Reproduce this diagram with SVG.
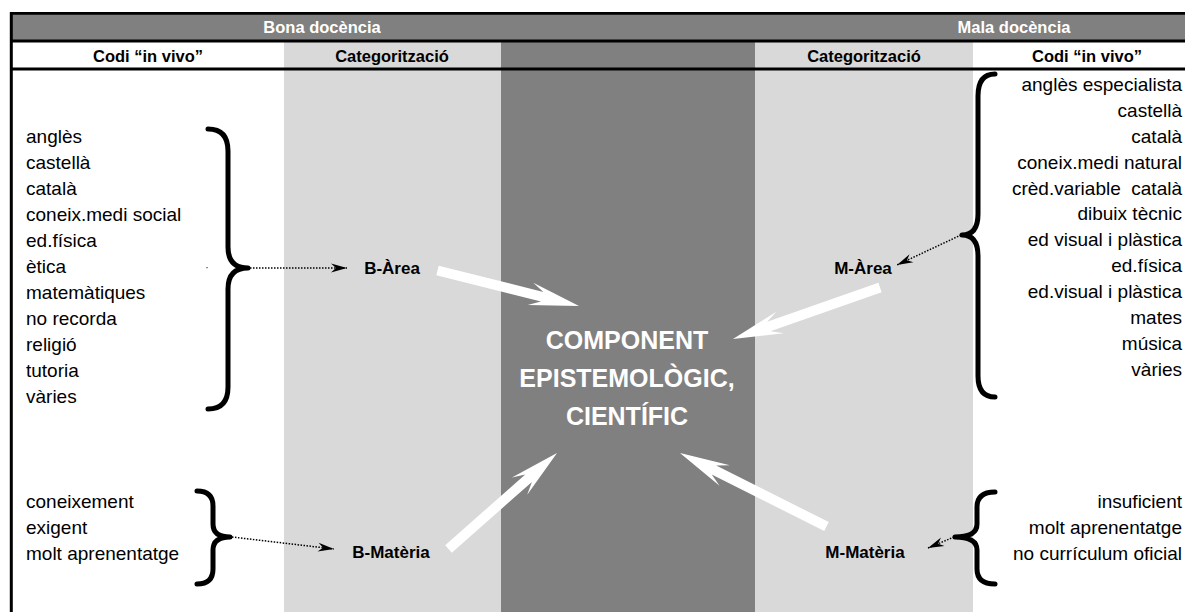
<svg xmlns="http://www.w3.org/2000/svg" width="1185" height="612" viewBox="0 0 1185 612">
<style>
.hd{font-family:"Liberation Sans",Arial,sans-serif;font-weight:bold;font-size:16.5px;text-anchor:middle}
.wh{fill:#ffffff}
.bk{fill:#000000}
.li{font-family:"Liberation Sans",Arial,sans-serif;font-size:19px;fill:#000}
.rt{text-anchor:end}
.cat{font-family:"Liberation Sans",Arial,sans-serif;font-weight:bold;font-size:17px;fill:#000;text-anchor:middle}
.big{font-family:"Liberation Sans",Arial,sans-serif;font-weight:bold;font-size:25px;fill:#fff;text-anchor:middle}
.brace{fill:none;stroke:#000;stroke-width:5;stroke-linecap:round;stroke-linejoin:round}
.dot{fill:none;stroke:#000;stroke-width:1.5;stroke-dasharray:1.5 1.5}
.blk{fill:#fff}
</style>
<defs>
<marker id="ah" viewBox="-17 -6 18 12" refX="0" refY="0" markerWidth="18" markerHeight="12" markerUnits="userSpaceOnUse" orient="auto">
<path d="M0,0 L-16,-4.5 L-11,0 L-16,4.5 Z" fill="#000"/>
</marker>
</defs>
<rect width="1185" height="612" fill="#fff"/>
<g id="columns">
<rect x="284" y="42" width="217" height="570" fill="#d9d9d9"/>
<rect x="501" y="42" width="254" height="570" fill="#808080"/>
<rect x="755" y="42" width="218" height="570" fill="#d9d9d9"/>
<rect x="11" y="13" width="1174" height="28" fill="#808080"/>
</g>
<g id="gridlines" stroke="#000" fill="none">
<line x1="10" y1="13.3" x2="1185" y2="13.3" stroke-width="2.7"/>
<line x1="10" y1="41" x2="1185" y2="41" stroke-width="3"/>
<line x1="10" y1="69" x2="1185" y2="69" stroke-width="3"/>
<line x1="11.3" y1="12" x2="11.3" y2="612" stroke-width="3"/>
</g>
<g id="headers">
<text class="hd wh" x="322" y="33">Bona docència</text>
<text class="hd wh" x="1014" y="33">Mala docència</text>
<text class="hd bk" x="148" y="62">Codi “in vivo”</text>
<text class="hd bk" x="392" y="62">Categorització</text>
<text class="hd bk" x="864" y="62">Categorització</text>
<text class="hd bk" x="1087" y="62">Codi “in vivo”</text>
</g>
<g id="list-b-area">
<text class="li" x="26" y="143">anglès</text>
<text class="li" x="26" y="169">castellà</text>
<text class="li" x="26" y="195">català</text>
<text class="li" x="26" y="221">coneix.medi social</text>
<text class="li" x="26" y="247">ed.física</text>
<text class="li" x="26" y="273">ètica</text>
<text class="li" x="26" y="299">matemàtiques</text>
<text class="li" x="26" y="325">no recorda</text>
<text class="li" x="26" y="351">religió</text>
<text class="li" x="26" y="377">tutoria</text>
<text class="li" x="26" y="403">vàries</text>
<path class="brace" d="M208,129 Q228,129 228,151 L228,247 Q228,268 248,268 Q228,268 228,289 L228,387 Q228,409 208,409"/>
<rect x="206" y="267" width="2" height="1.2" fill="#888"/>
</g>
<g id="list-m-area">
<text class="li rt" x="1182" y="91">anglès especialista</text>
<text class="li rt" x="1182" y="117">castellà</text>
<text class="li rt" x="1182" y="143">català</text>
<text class="li rt" x="1182" y="169">coneix.medi natural</text>
<text class="li rt" x="1182" y="195" xml:space="preserve">crèd.variable  català</text>
<text class="li rt" x="1182" y="220">dibuix tècnic</text>
<text class="li rt" x="1182" y="246">ed visual i plàstica</text>
<text class="li rt" x="1182" y="272">ed.física</text>
<text class="li rt" x="1182" y="298">ed.visual i plàstica</text>
<text class="li rt" x="1182" y="324">mates</text>
<text class="li rt" x="1182" y="350">música</text>
<text class="li rt" x="1182" y="376">vàries</text>
<path class="brace" d="M995,74 Q978,74 978,96 L978,214 Q978,235 962,235 Q978,235 978,256 L978,376 Q978,397 995,397"/>
</g>
<g id="list-b-materia">
<text class="li" x="26" y="508">coneixement</text>
<text class="li" x="26" y="534">exigent</text>
<text class="li" x="26" y="560">molt aprenentatge</text>
<path class="brace" d="M197,491 Q213,491 213,506 L213,524 Q213,537 230,537 Q213,537 213,550 L213,569 Q213,584 197,584"/>
</g>
<g id="list-m-materia">
<text class="li rt" x="1182" y="508">insuficient</text>
<text class="li rt" x="1182" y="534">molt aprenentatge</text>
<text class="li rt" x="1182" y="560">no currículum oficial</text>
<path class="brace" d="M995,492 Q977,492 977,507 L977,524 Q977,537 955,537 Q977,537 977,550 L977,569 Q977,584 995,584"/>
</g>
<g id="b-area"><text class="cat" x="392" y="274">B-Àrea</text></g>
<g id="m-area"><text class="cat" x="863" y="274">M-Àrea</text></g>
<g id="b-materia"><text class="cat" x="391" y="558">B-Matèria</text></g>
<g id="m-materia"><text class="cat" x="865" y="558">M-Matèria</text></g>
<g id="component">
<text class="big" x="627" y="349">COMPONENT</text>
<text class="big" x="627" y="387">EPISTEMOLÒGIC,</text>
<text class="big" x="627" y="425">CIENTÍFIC</text>
</g>
<g id="connectors">
<line class="dot" x1="250" y1="268" x2="347" y2="268" marker-end="url(#ah)"/>
<line class="dot" x1="961" y1="235" x2="897" y2="265" marker-end="url(#ah)"/>
<line class="dot" x1="232" y1="537" x2="334" y2="549" marker-end="url(#ah)"/>
<line class="dot" x1="954" y1="537" x2="928" y2="548" marker-end="url(#ah)"/>
<path class="blk" transform="translate(437.5,270.5) rotate(14.08)" d="M0,-5 H107.9 L95.9,-11.5 L145.9,0 L95.9,11.5 L107.9,5 H0 Z"/>
<path class="blk" transform="translate(880,287.5) rotate(160.69)" d="M0,-5 H117.8 L105.8,-11.5 L155.8,0 L105.8,11.5 L117.8,5 H0 Z"/>
<path class="blk" transform="translate(448.5,549) rotate(-41.5)" d="M0,-5 H106.9 L94.9,-11.5 L144.9,0 L94.9,11.5 L106.9,5 H0 Z"/>
<path class="blk" transform="translate(826.5,526.5) rotate(-153.36)" d="M0,-5 H125.9 L113.9,-11.5 L163.9,0 L113.9,11.5 L125.9,5 H0 Z"/>
</g>
</svg>
